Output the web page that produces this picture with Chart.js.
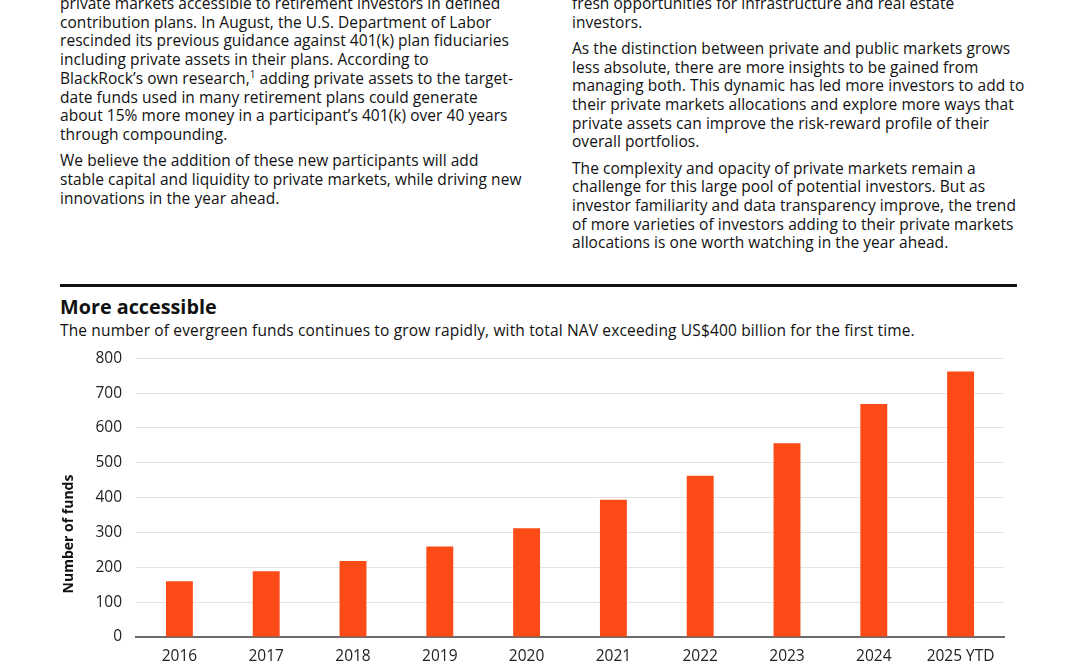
<!DOCTYPE html>
<html>
<head>
<meta charset="utf-8">
<script src="https://cdn.jsdelivr.net/npm/chart.js@4"></script>
<style>
  html, body { margin: 0; padding: 0; background: #fff; }
  body { width: 1080px; height: 669px; position: relative; overflow: hidden; font-family: "Open Sans", sans-serif; color: #111; }
  .col { position: absolute; top: -6px; font-size: 15.5px; letter-spacing: 0.05px; line-height: 18.7px; white-space: nowrap; }
  .col p { margin: 0 0 7.5px 0; }
  #left { left: 60px; }
  #right { left: 572px; }
  .rule { position: absolute; left: 60px; top: 284px; width: 957px; height: 3px; background: #111; }
  .title { position: absolute; left: 60px; top: 293px; font-size: 19.8px; font-weight: 700; }
  .subtitle { position: absolute; left: 60px; top: 319px; font-size: 15.5px; letter-spacing: 0.15px; }
  .chart-box { position: absolute; left: 50px; top: 335px; width: 970px; height: 334px; }
  sup { font-size: 10px; line-height: 0; }
</style>
</head>
<body>
<div class="col" id="left">
  <p>private markets accessible to retirement investors in defined<br>
  contribution plans. In August, the U.S. Department of Labor<br>
  rescinded its previous guidance against 401(k) plan fiduciaries<br>
  including private assets in their plans. According to<br>
  BlackRock’s own research,<sup>1</sup> adding private assets to the target-<br>
  date funds used in many retirement plans could generate<br>
  about 15% more money in a participant’s 401(k) over 40 years<br>
  through compounding.</p>
  <p>We believe the addition of these new participants will add<br>
  stable capital and liquidity to private markets, while driving new<br>
  innovations in the year ahead.</p>
</div>
<div class="col" id="right">
  <p>fresh opportunities for infrastructure and real estate<br>
  investors.</p>
  <p>As the distinction between private and public markets grows<br>
  less absolute, there are more insights to be gained from<br>
  managing both. This dynamic has led more investors to add to<br>
  their private markets allocations and explore more ways that<br>
  private assets can improve the risk-reward profile of their<br>
  overall portfolios.</p>
  <p>The complexity and opacity of private markets remain a<br>
  challenge for this large pool of potential investors. But as<br>
  investor familiarity and data transparency improve, the trend<br>
  of more varieties of investors adding to their private markets<br>
  allocations is one worth watching in the year ahead.</p>
</div>
<div class="rule"></div>
<div class="title">More accessible</div>
<div class="subtitle">The number of evergreen funds continues to grow rapidly, with total NAV exceeding US$400 billion for the first time.</div>
<div class="chart-box"><canvas id="fundsChart"></canvas></div>

<script>
// Chart data
const years = ['2016', '2017', '2018', '2019', '2020', '2021', '2022', '2023', '2024', '2025 YTD'];
const fundCounts = [160, 189, 218, 260, 312, 394, 463, 556, 669, 762];
const yTicks = [0, 100, 200, 300, 400, 500, 600, 700, 800];
const yAxisTitle = 'Number of funds';

// Draw the rotated y-axis title a bit below the chart-area middle, like the original
const yTitlePlugin = {
  id: 'yTitle',
  afterDraw(chart) {
    const { ctx, chartArea } = chart;
    ctx.save();
    ctx.translate(19, chartArea.bottom - 103);
    ctx.rotate(-Math.PI / 2);
    ctx.font = 'bold 14px "Open Sans", sans-serif';
    ctx.fillStyle = '#111';
    ctx.textAlign = 'center';
    ctx.textBaseline = 'middle';
    ctx.fillText(yAxisTitle, 0, 0);
    ctx.restore();
  }
};

const ctx = document.getElementById('fundsChart').getContext('2d');
new Chart(ctx, {
  type: 'bar',
  data: {
    labels: years,
    datasets: [{
      label: yAxisTitle,
      data: fundCounts,
      backgroundColor: '#fc4b17',
      barPercentage: 0.31,
      categoryPercentage: 1
    }]
  },
  options: {
    responsive: true,
    maintainAspectRatio: false,
    animation: false,
    layout: { padding: { top: 2, right: 16, left: 0, bottom: 0 } },
    plugins: {
      legend: { display: false },
      tooltip: { enabled: false }
    },
    scales: {
      x: {
        grid: { display: false, drawTicks: false },
        border: { color: '#6b6b6b', width: 2 },
        ticks: { color: '#222', padding: 10, font: { family: '"Open Sans", sans-serif', size: 15.5 }, maxRotation: 0 },
        afterFit(scale) { scale.height = 32; }
      },
      y: {
        min: 0,
        max: 800,
        afterBuildTicks(scale) { scale.ticks = yTicks.map(v => ({ value: v })); },
        grid: { color: '#e3e3e3', lineWidth: 1, drawTicks: false },
        border: { display: false },
        ticks: { color: '#222', padding: 14, font: { family: '"Open Sans", sans-serif', size: 15.5 } },
        afterFit(scale) { scale.width = 86; }
      }
    }
  },
  plugins: [yTitlePlugin]
});
</script>
</body>
</html>
